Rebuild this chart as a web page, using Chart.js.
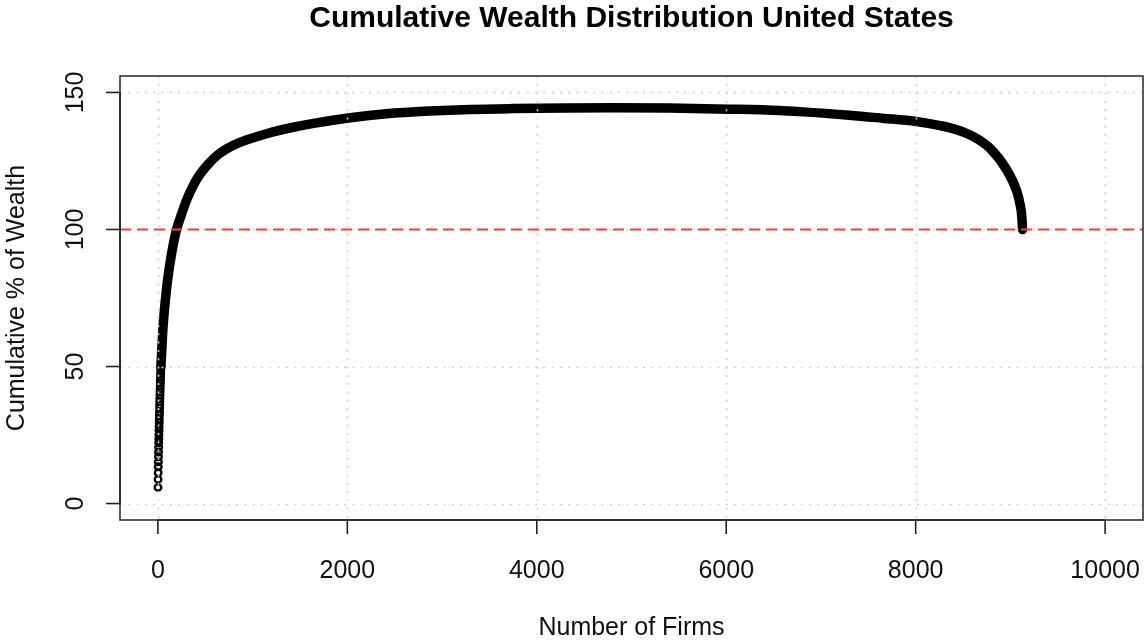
<!DOCTYPE html>
<html>
<head>
<meta charset="utf-8">
<script src="https://cdn.jsdelivr.net/npm/chart.js@4.4.1/dist/chart.umd.min.js"></script>
<style>
  html, body { margin: 0; padding: 0; background: #ffffff; }
  #wrap { width: 1144px; height: 641px; position: relative; }
</style>
</head>
<body>
<div id="wrap"><canvas id="c" width="1144" height="641"></canvas></div>
<script>
// Labels
const chartTitle = 'Cumulative Wealth Distribution United States';
const xAxisTitle = 'Number of Firms';
const yAxisTitle = 'Cumulative % of Wealth';
const xTicks = [0, 2000, 4000, 6000, 8000, 10000];
const yTicks = [0, 50, 100, 150];
const referenceLevel = 100;

// Largest firms, one by one
const topFirms = [1, 2, 3, 4, 5, 6, 7, 8, 9, 10, 11, 12, 13, 14, 15, 16,
                  17, 18, 19, 20, 21, 22, 23, 24, 25, 26, 27, 28, 29, 30, 31, 32];
const topCumulative = [5.9, 8.8, 11.2, 13.4, 15.2, 17.1, 18.8, 20.5, 22.2, 23.6, 25.1, 26.6,
                       28.0, 29.5, 30.8, 32.2, 33.4, 34.8, 36.0, 37.2, 38.4, 39.6, 40.8, 41.9,
                       43.0, 44.1, 45.1, 46.2, 47.2, 48.2, 49.1, 50.0];

// Remaining firms along the ranking
const rankFirms = [32, 51, 70, 88, 110, 137, 165, 197, 250, 309, 415, 549, 636, 725, 865,
                   1077, 1216, 1429, 1675, 1990, 2412, 2869, 3300, 3745, 4300, 4800, 5400,
                   6034, 6561, 6772, 7300, 7648, 8003, 8258, 8434, 8610, 8786, 8962, 9067,
                   9100, 9120, 9128];
const rankCumulative = [50.0, 62.6, 71.0, 77.3, 83.5, 89.6, 95.0, 100.0, 105.6, 111.2, 118.6,
                        124.5, 127.3, 129.4, 131.8, 134.2, 135.6, 137.3, 138.9, 140.6, 142.2,
                        143.2, 143.8, 144.1, 144.3, 144.4, 144.3, 143.9, 143.4, 143.0, 141.7,
                        140.6, 139.4, 137.9, 136.4, 133.9, 129.6, 121.7, 114.0, 109.5, 105.0,
                        100.0];

const FONT = '"Liberation Sans", Arial, Helvetica, sans-serif';

// Base-graphics style frame: dotted grid, dashed reference line, box, axes, text
const frame = {
  id: 'frame',
  afterDatasetsDraw(chart) {
    const { ctx, chartArea: a, scales: { x, y } } = chart;
    ctx.save();

    // dotted grid on top of the points
    ctx.strokeStyle = '#cfcfcf';
    ctx.lineWidth = 1.6;
    ctx.setLineDash([2, 6.3]);
    xTicks.forEach(v => {
      const px = Math.round(x.getPixelForValue(v)) + 0.5;
      ctx.beginPath(); ctx.moveTo(px, a.top); ctx.lineTo(px, a.bottom); ctx.stroke();
    });
    yTicks.forEach(v => {
      const py = Math.round(y.getPixelForValue(v)) + 0.5;
      ctx.beginPath(); ctx.moveTo(a.left, py); ctx.lineTo(a.right, py); ctx.stroke();
    });

    // dashed reference line
    ctx.strokeStyle = '#ff3b3b';
    ctx.lineWidth = 2;
    ctx.setLineDash([11, 6]);
    const ry = y.getPixelForValue(referenceLevel);
    ctx.beginPath(); ctx.moveTo(a.left, ry); ctx.lineTo(a.right, ry); ctx.stroke();
    ctx.setLineDash([]);

    // box
    ctx.strokeStyle = '#333333';
    ctx.lineWidth = 1.6;
    ctx.strokeRect(a.left, a.top, a.right - a.left, a.bottom - a.top);

    // axes with tick marks
    const tick = 14;
    ctx.strokeStyle = '#222222';
    ctx.lineWidth = 1.6;
    const x0 = x.getPixelForValue(xTicks[0]);
    const x1 = x.getPixelForValue(xTicks[xTicks.length - 1]);
    ctx.beginPath(); ctx.moveTo(x0, a.bottom); ctx.lineTo(x1, a.bottom); ctx.stroke();
    xTicks.forEach(v => {
      const px = x.getPixelForValue(v);
      ctx.beginPath(); ctx.moveTo(px, a.bottom); ctx.lineTo(px, a.bottom + tick); ctx.stroke();
    });
    const y0 = y.getPixelForValue(yTicks[0]);
    const y1 = y.getPixelForValue(yTicks[yTicks.length - 1]);
    ctx.beginPath(); ctx.moveTo(a.left, y0); ctx.lineTo(a.left, y1); ctx.stroke();
    yTicks.forEach(v => {
      const py = y.getPixelForValue(v);
      ctx.beginPath(); ctx.moveTo(a.left, py); ctx.lineTo(a.left - tick, py); ctx.stroke();
    });

    // tick labels
    ctx.fillStyle = '#111111';
    ctx.font = '25px ' + FONT;
    ctx.textAlign = 'center';
    ctx.textBaseline = 'middle';
    xTicks.forEach(v => ctx.fillText(String(v), x.getPixelForValue(v), a.bottom + 51));
    yTicks.forEach(v => {
      ctx.save();
      ctx.translate(a.left - 44, y.getPixelForValue(v));
      ctx.rotate(-Math.PI / 2);
      ctx.fillText(String(v), 0, 0);
      ctx.restore();
    });

    // axis titles
    const cx = (a.left + a.right) / 2;
    ctx.fillText(xAxisTitle, cx, a.bottom + 108);
    ctx.save();
    ctx.translate(17, (a.top + a.bottom) / 2);
    ctx.rotate(-Math.PI / 2);
    ctx.fillText(yAxisTitle, 0, 0);
    ctx.restore();

    // main title
    ctx.fillStyle = '#000000';
    ctx.font = 'bold 30px ' + FONT;
    ctx.fillText(chartTitle, cx, 19);

    ctx.restore();
  }
};

new Chart(document.getElementById('c'), {
  type: 'scatter',
  data: {
    datasets: [
      {
        type: 'line',
        data: rankFirms.map((f, i) => ({ x: f, y: rankCumulative[i] })),
        borderColor: '#000000',
        borderWidth: 9.5,
        borderCapStyle: 'round',
        borderJoinStyle: 'round',
        cubicInterpolationMode: 'monotone',
        pointRadius: 0,
        fill: false
      },
      {
        type: 'scatter',
        data: topFirms.map((f, i) => ({ x: f, y: topCumulative[i] })),
        borderColor: '#000000',
        backgroundColor: 'rgba(0,0,0,0)',
        borderWidth: 2.4,
        pointRadius: 3.3
      }
    ]
  },
  options: {
    responsive: false,
    animation: false,
    devicePixelRatio: 1,
    layout: { autoPadding: false, padding: { left: 120, top: 76, right: 1, bottom: 121 } },
    scales: {
      x: { type: 'linear', min: -400, max: 10400, display: false },
      y: { type: 'linear', min: -6, max: 156, display: false }
    },
    plugins: {
      legend: { display: false },
      tooltip: { enabled: false },
      title: { display: false }
    }
  },
  plugins: [frame]
});
</script>
</body>
</html>
